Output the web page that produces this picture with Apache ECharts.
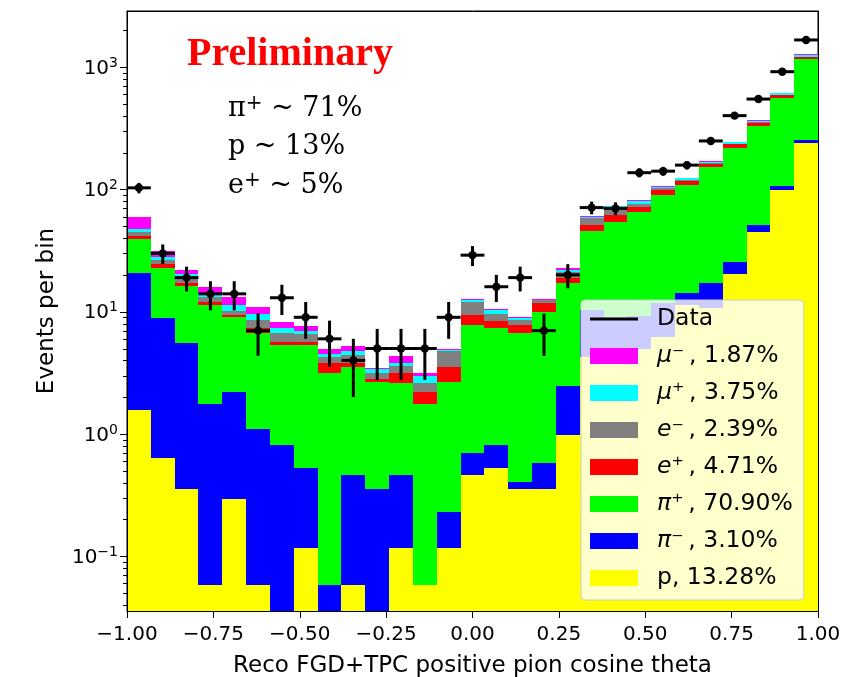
<!DOCTYPE html>
<html>
<head>
<meta charset="utf-8">
<title>Reco FGD+TPC positive pion cosine theta</title>
<script src="https://cdn.jsdelivr.net/npm/echarts@6.0.0/dist/echarts.min.js"></script>
<style>
  html, body { margin: 0; padding: 0; background: #ffffff; }
  #chart { width: 842px; height: 677px; }
</style>
</head>
<body>
<div id="chart"></div>
<script>
// Binning: 29 equal-width bins over cos(theta) in [-1, 1]
const binRange = [-1, 1];
const binCount = 29;

// Observed events per bin
const dataEvents = [103, 30, 19, 14, 14, 7, 13, 9, 6, 4, 5, 5, 5, 9, 29, 16, 19, 7, 20,
                    71, 70, 137, 141, 158, 249, 401, 548, 917, 1667];

// Simulated events per bin by true particle type (stacked bottom to top in this order)
const protonMC  = [1.57, 0.64, 0.353, 0.058, 0.292, 0.058, 0, 0.116, 0, 0.058, 0, 0.116, 0.058, 0.116, 0.462,
                   0.524, 0.353, 0.353, 0.98, 4.29, 4.8, 5.0, 6.25, 11.3, 10.7, 20.3, 45, 99, 241];
const piMinusMC = [19.03, 8.19, 5.23, 1.69, 1.90, 1.05, 0.813, 0.408, 0.058, 0.404, 0.353, 0.346, 0, 0.116, 0.233,
                   0.289, 0.054, 0.229, 1.49, 6.0, 4.2, 4.3, 5.55, 2.8, 6.5, 5.0, 6.0, 8.0, 12.5];
const piPlusMC  = [18.5, 14.07, 10.72, 9.55, 6.81, 5.55, 4.53, 4.82, 3.08, 3.09, 2.33, 2.17, 1.70, 2.45, 7.10,
                   6.59, 6.25, 9.42, 14.63, 35.7, 45.5, 56.4, 78.2, 94.5, 134.4, 193.7, 281, 455, 905.5];
const ePlusMC   = [2.5, 1.6, 1.0, 0.8, 0.4, 0.65, 0.35, 0.35, 0.65, 0.24, 0.14, 0.51, 0.43, 0.87, 1.61,
                   1.05, 1.13, 1.7, 1.7, 5.2, 7.3, 6.5, 8.9, 8.4, 9.8, 15, 19, 26, 40];
const eMinusMC  = [3.5, 2.0, 2.3, 1.2, 0.8, 1.24, 1.04, 0.84, 0.50, 0.64, 0.35, 0.48, 0.44, 1.25, 2.7,
                   1.13, 0.76, 0.8, 2.4, 6.8, 10.2, 3.8, 3.1, 2.0, 2.6, 2, 3, 6, 12];
const muPlusMC  = [2.1, 1.7, 0.7, 1.0, 1.1, 1.03, 0.59, 0.47, 0.19, 0.34, 0.21, 0.17, 0.35, 0.05, 0.3,
                   0.82, 0.3, 0.05, 0.7, 1.8, 0.7, 4.5, 3.5, 4.0, 5.0, 7, 11, 17, 52];
const muMinusMC = [12.6, 3.2, 1.6, 1.7, 2.0, 1.32, 0.87, 0.64, 0.47, 0.50, 0.05, 0.55, 0.19, 0.07, 0.2,
                   0.1, 0.15, 0.05, 0.7, 0.8, 0.4, 1.4, 1.5, 1.6, 2.0, 2.5, 4, 7, 10];

// Legend labels (particle, share of selected sample)
const legendLabels = ['Data', 'μ⁻, 1.87%', 'μ⁺, 3.75%', 'e⁻, 2.39%', 'e⁺, 4.71%', 'π⁺, 70.90%', 'π⁻, 3.10%', 'p, 13.28%'];

// Axis ranges
const xTickStep = 0.25;
const yRange = [0.0357, 2876];

const edges = Array.from({ length: binCount + 1 },
  (_, i) => binRange[0] + (binRange[1] - binRange[0]) * i / binCount);

const stackLayers = [
  { name: legendLabels[7], color: '#ffff00', counts: protonMC },
  { name: legendLabels[6], color: '#0000ff', counts: piMinusMC },
  { name: legendLabels[5], color: '#00ff00', counts: piPlusMC },
  { name: legendLabels[4], color: '#ff0000', counts: ePlusMC },
  { name: legendLabels[3], color: '#808080', counts: eMinusMC },
  { name: legendLabels[2], color: '#00ffff', counts: muPlusMC },
  { name: legendLabels[1], color: '#ff00ff', counts: muMinusMC }
];

// One filled step per bin and layer, from the running stack level to the new one
function renderStep(params, api) {
  const lo = Math.max(api.value(2), yRange[0]);
  const a = api.coord([api.value(0), lo]);
  const b = api.coord([api.value(1), api.value(3)]);
  const x0 = Math.round(a[0]), x1 = Math.round(b[0]);
  const y0 = Math.round(a[1]), y1 = Math.round(b[1]);
  if (y0 <= y1) return null;
  return {
    type: 'rect',
    shape: { x: x0, y: y1, width: x1 - x0, height: y0 - y1 },
    style: { fill: api.visual('color') }
  };
}

const level = new Array(binCount).fill(0);
const histSeries = stackLayers.map(layer => {
  const rows = [];
  layer.counts.forEach((c, i) => {
    const lo = level[i], hi = lo + c;
    level[i] = hi;
    if (c > 0) rows.push([edges[i], edges[i + 1], lo, hi]);
  });
  return {
    type: 'custom', name: layer.name, z: 2, clip: true, silent: true,
    itemStyle: { color: layer.color },
    encode: { x: [0, 1], y: [2, 3] },
    data: rows,
    renderItem: renderStep
  };
});

// Data points: marker at bin centre, horizontal bar over the bin, Poisson error bar
const dataRows = dataEvents.map((n, i) => [edges[i], edges[i + 1], n]);
const dataSeries = {
  type: 'custom', name: 'Data', z: 5, clip: true, silent: true,
  itemStyle: { color: '#000000' },
  encode: { x: [0, 1], y: 2 },
  data: dataRows,
  renderItem(params, api) {
    const x0 = api.value(0), x1 = api.value(1), n = api.value(2);
    const s = Math.sqrt(n), xm = (x0 + x1) / 2;
    const L = api.coord([x0, n]), R = api.coord([x1, n]);
    const T = api.coord([xm, n + s]), B = api.coord([xm, n - s]);
    const st = { stroke: '#000000', lineWidth: 3 };
    return {
      type: 'group',
      children: [
        { type: 'line', shape: { x1: L[0], y1: L[1], x2: R[0], y2: R[1] }, style: st },
        { type: 'line', shape: { x1: T[0], y1: T[1], x2: B[0], y2: B[1] }, style: st },
        { type: 'circle', shape: { cx: (L[0] + R[0]) / 2, cy: L[1], r: 4.2 }, style: { fill: '#000000' } }
      ]
    };
  }
};

// Log-axis ticks: long at decades, short at 2..9 within each decade
const yTickRows = [];
for (let d = -2; d <= 3; d++) {
  for (let m = 1; m <= 9; m++) {
    const v = m * Math.pow(10, d);
    if (v >= yRange[0] && v <= yRange[1]) yTickRows.push([binRange[0], v, m === 1 ? 1 : 0]);
  }
}
const yTickSeries = {
  type: 'custom', name: 'yTicks', z: 10, clip: false, silent: true,
  encode: { x: 0, y: 1 },
  data: yTickRows,
  renderItem(params, api) {
    const p = api.coord([api.value(0), api.value(1)]);
    const len = api.value(2) ? 7 : 4;
    const y = Math.round(p[1]) + 0.5;
    return { type: 'line', shape: { x1: p[0] - len, y1: y, x2: p[0], y2: y },
             style: { stroke: '#000000', lineWidth: 1 } };
  }
};

const sansFont = 'DejaVu Sans';
const serifFont = 'DejaVu Serif';

function annotation(y, base, sup, rest) {
  return {
    type: 'text', x: 228, y: y, z: 20,
    style: {
      text: '{b|' + base + '}' + (sup ? '{s|' + sup + '}' : '') + '{b|' + rest + '}',
      verticalAlign: 'middle',
      rich: {
        b: { fontFamily: serifFont, fontSize: 27, lineHeight: 30, fill: '#000000' },
        s: { fontFamily: serifFont, fontSize: 20, lineHeight: 14, verticalAlign: 'top', fill: '#000000' }
      }
    }
  };
}

const chart = echarts.init(document.getElementById('chart'), null, { renderer: 'canvas' });
chart.setOption({
  animation: false,
  backgroundColor: '#ffffff',
  textStyle: { fontFamily: sansFont },
  grid: {
    left: 127, top: 11, width: 691, height: 600,
    containLabel: false, outerBoundsMode: 'none',
    show: true, backgroundColor: '#ffffff', borderColor: '#000000', borderWidth: 1
  },
  xAxis: [
    {
      type: 'value', min: binRange[0], max: binRange[1], interval: xTickStep, z: 10,
      name: 'Reco FGD+TPC positive pion cosine theta',
      nameLocation: 'middle', nameGap: 44,
      nameTextStyle: { fontFamily: sansFont, fontSize: 23, color: '#000000' },
      axisLine: { show: true, onZero: false, lineStyle: { color: '#000000', width: 1 } },
      axisTick: { show: true, length: 7, inside: false, lineStyle: { color: '#000000' } },
      axisLabel: {
        margin: 14, fontFamily: sansFont, fontSize: 20, color: '#000000',
        formatter: v => (v < 0 ? '\u2212' : '') + Math.abs(v).toFixed(2)
      },
      splitLine: { show: false }
    },
    {
      type: 'value', position: 'top', min: binRange[0], max: binRange[1], z: 10,
      axisLine: { show: true, onZero: false, lineStyle: { color: '#000000', width: 1 } },
      axisTick: { show: false }, axisLabel: { show: false }, splitLine: { show: false }
    }
  ],
  yAxis: [
    {
      type: 'log', logBase: 10, min: yRange[0], max: yRange[1], z: 10,
      name: 'Events per bin', nameLocation: 'middle', nameGap: 68, nameRotate: 90,
      nameTextStyle: { fontFamily: sansFont, fontSize: 23, color: '#000000' },
      axisLine: { show: true, onZero: false, lineStyle: { color: '#000000', width: 1 } },
      axisTick: { show: false },
      minorTick: { show: false },
      splitLine: { show: false },
      axisLabel: {
        margin: 9,
        formatter: v => {
          const e = Math.log10(v), r = Math.round(e);
          if (Math.abs(e - r) > 1e-6) return '';
          return '{b|10}{e|' + (r < 0 ? '\u2212' + (-r) : r) + '}';
        },
        rich: {
          b: { fontFamily: sansFont, fontSize: 20, lineHeight: 22, color: '#000000', padding: [3, 0, 0, 0] },
          e: { fontFamily: sansFont, fontSize: 14, lineHeight: 14, verticalAlign: 'top', color: '#000000' }
        }
      }
    },
    {
      type: 'value', position: 'right', min: 0, max: 1, z: 10,
      axisLine: { show: true, onZero: false, lineStyle: { color: '#000000', width: 1 } },
      axisTick: { show: false }, axisLabel: { show: false }, splitLine: { show: false }
    }
  ],
  legend: {
    orient: 'vertical', left: 581, top: 300,
    padding: [7, 11, 10, 9],
    itemWidth: 48, itemHeight: 16, itemGap: 13,
    backgroundColor: 'rgba(255,255,255,0.8)',
    borderColor: '#cccccc', borderWidth: 1, borderRadius: 4,
    selectedMode: false,
    textStyle: {
      fontFamily: sansFont, fontSize: 23.5, lineHeight: 24, color: '#000000', padding: [0, 0, 0, 14],
      rich: {
        it: { fontFamily: sansFont, fontSize: 23.5, lineHeight: 24, fontStyle: 'italic', color: '#000000' },
        rg: { fontFamily: sansFont, fontSize: 23.5, lineHeight: 24, color: '#000000' }
      }
    },
    formatter: name => {
      const k = name.indexOf(',');
      if (k < 0) return name;
      const sym = name.slice(0, k);
      if (sym === 'p') return '{rg|' + name + '}';
      return '{it|' + sym + '}{rg|\u2009' + name.slice(k) + '}';
    },
    data: legendLabels.map((n, i) => ({
      name: n,
      icon: i === 0 ? 'path://M0,0M48,16M0,6.5L48,6.5L48,9.5L0,9.5Z' : 'rect'
    }))
  },
  graphic: [
    {
      type: 'text', x: 187, y: 55, z: 20,
      style: { text: 'Preliminary', fontFamily: 'Liberation Serif', fontWeight: 'bold', fontSize: 40,
               fill: '#ff0000', verticalAlign: 'middle' }
    },
    annotation(109, 'π', '+', ' ~ 71%'),
    annotation(147.4, 'p ~ 13%', '', ''),
    annotation(185.7, 'e', '+', ' ~ 5%')
  ],
  series: [...histSeries, dataSeries, yTickSeries]
});
</script>
</body>
</html>
